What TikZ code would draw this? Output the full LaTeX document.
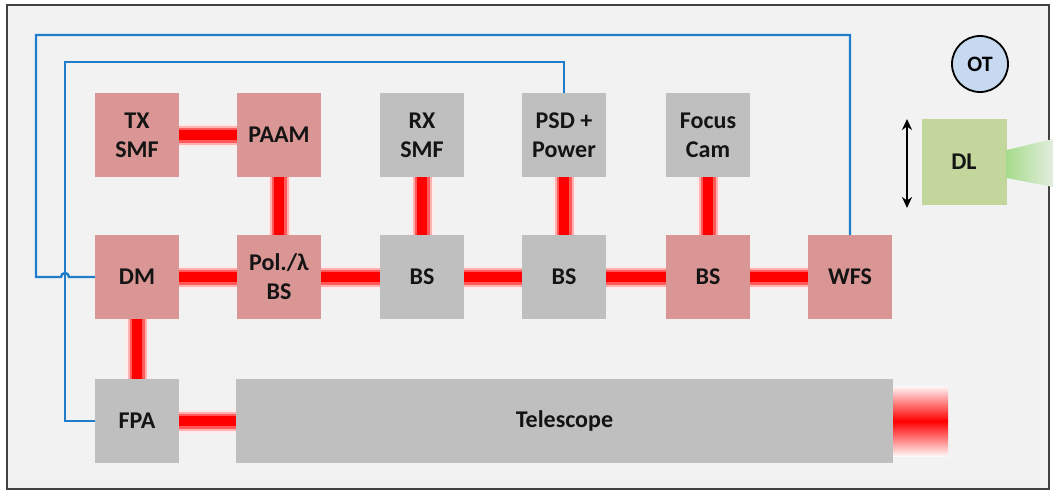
\documentclass[tikz,border=0pt]{standalone}
\usepackage{fontspec}
\setmainfont{Carlito}
\usetikzlibrary{arrows.meta}
\definecolor{bg}{HTML}{F2F2F2}
\definecolor{pinkfill}{HTML}{D99694}
\definecolor{grayfill}{HTML}{BFBFBF}
\definecolor{greenfill}{HTML}{C3D69B}
\definecolor{otfill}{HTML}{C6D9F1}
\definecolor{wirecol}{HTML}{1F7DCB}
\definecolor{dlbeam}{HTML}{A6DB8C}
\begin{document}
\begin{tikzpicture}[x=1pt,y=-1pt,
  box/.style={minimum width=84pt,minimum height=84pt,inner sep=0pt,align=center,
    font=\fontsize{24}{29}\selectfont\bfseries,text=black!92},
  pbox/.style={box,fill=pinkfill},
  gbox/.style={box,fill=grayfill},
  beamA/.style={line width=23pt,red!8},
  beamB/.style={line width=19pt,red!30},
  beamC/.style={line width=15pt,red!65},
  beamD/.style={line width=10pt,red},
  wire/.style={draw=wirecol,line width=2.4pt},
  otstyle/.style={circle,minimum size=56pt,inner sep=0pt,fill=otfill,draw=black,line width=1.8pt,
    font=\fontsize{22}{26}\selectfont\bfseries}]
\useasboundingbox (0,0) rectangle (1053,491);
\fill[white] (0,0) rectangle (1053,491);
\draw[black!75,line width=2.2pt,fill=bg] (7,5) rectangle (1049,489);

% nodes
\node[pbox] (tx)   at (137,135) {TX\\SMF};
\node[pbox] (paam) at (279,135) {PAAM};
\node[gbox] (rx)   at (422,135) {RX\\SMF};
\node[gbox] (psd)  at (564,135) {PSD +\\Power};
\node[gbox] (foc)  at (708,135) {Focus\\Cam};
\node[pbox] (dm)   at (137,277) {DM};
\node[pbox] (pol)  at (279,277) {Pol./λ\\BS};
\node[gbox] (bs1)  at (422,277) {BS};
\node[gbox] (bs2)  at (564,277) {BS};
\node[pbox] (bs3)  at (708,277) {BS};
\node[pbox] (wfs)  at (850,277) {WFS};
\node[gbox] (fpa)  at (137,421) {FPA};
\node[gbox,minimum width=657pt] (tel) at (564.5,421) {Telescope};
\node[box,fill=greenfill,minimum width=85pt,minimum height=86pt] (dl) at (964,162) {DL};
\node[otstyle] (ot) at (980,64) {OT};

% beams
\foreach \a/\b in {tx/paam,paam/pol,dm/pol,pol/bs1,bs1/bs2,bs2/bs3,bs3/wfs,rx/bs1,psd/bs2,foc/bs3,dm/fpa,fpa/tel}{
  \draw[beamA] (\a) -- (\b);
  \draw[beamB] (\a) -- (\b);
  \draw[beamC] (\a) -- (\b);
  \draw[beamD] (\a) -- (\b);
}
% telescope output beam
\shade[top color=red!3,bottom color=red!3,middle color=red] (tel.north east |- 0,386) rectangle (948,456);
% DL beam
\shade[left color=dlbeam,right color=dlbeam!20!bg] (dl.east |- 0,150) -- (1053,139) -- (1053,187) -- (dl.east |- 0,178) -- cycle;
% translation arrow
\coordinate (arrT) at (907,119);
\coordinate (arrB) at (907,208);
\draw[{Stealth[length=11pt,width=10pt]}-{Stealth[length=11pt,width=10pt]},line width=2pt] (arrT) -- (arrB);

% wires
\draw[wire] (dm.west) -- (69,277) arc[start angle=0,end angle=-180,radius=4] -- (36,277) -- (36,35) -| (wfs.north);
\draw[wire] (fpa.west) -- (65,421) -- (65,62) -| (psd.north);
\end{tikzpicture}
\end{document}
